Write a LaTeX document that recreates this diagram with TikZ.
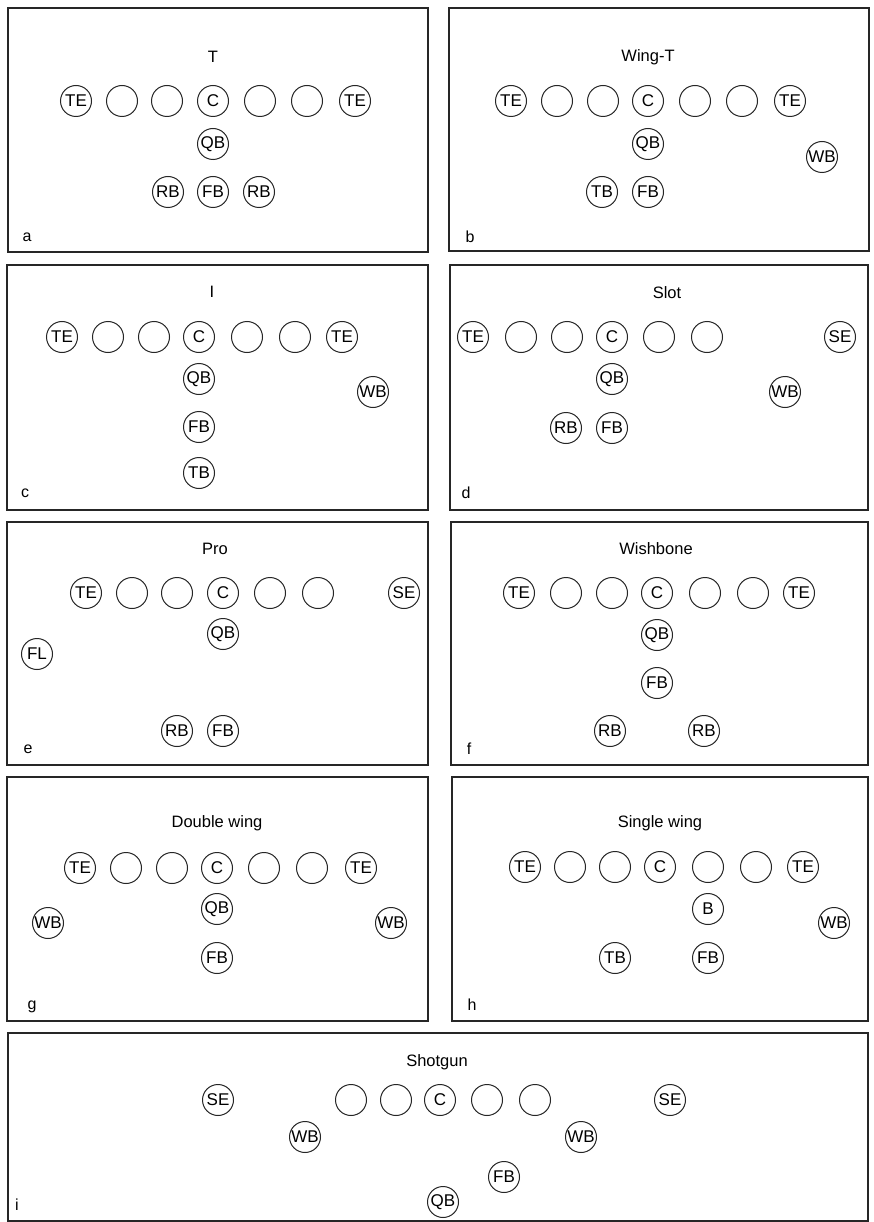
\documentclass[tikz,border=0pt]{standalone}
\usepackage{fontspec}
\setmainfont{Liberation Sans}
\newcommand\plr[4]{\node[pl] (#1) at (#2,#3) {#4};}
\begin{document}
\begin{tikzpicture}[x=1pt,y=-1pt,
  pl/.style={circle,draw=black!85,line width=1pt,minimum size=31pt,inner sep=0pt,font=\fontsize{17}{17}\selectfont},
  frame/.style={draw=black!85,line width=1.3pt},
  ttl/.style={font=\fontsize{16.5}{17}\selectfont,inner sep=0pt},
  lbl/.style={font=\fontsize{16}{16}\selectfont,inner sep=0pt}]
\useasboundingbox[fill=white] (0,0) rectangle (873,1222);
% ---------- a: T
\draw[frame] (8,8) rectangle (428,252);
\node[ttl] (ta) at (213,57) {T};
\plr{a1}{76}{101}{TE}\plr{a2}{122}{101}{}\plr{a3}{167}{101}{}\plr{a4}{213}{101}{C}
\plr{a5}{260}{101}{}\plr{a6}{307}{101}{}\plr{a7}{355}{101}{TE}
\plr{aqb}{213}{144}{QB}
\plr{arb1}{168}{192}{RB}\plr{afb}{213}{192}{FB}\plr{arb2}{259}{192}{RB}
\node[lbl] (la) at (27,237) {a};
% ---------- b: Wing-T
\draw[frame] (449,8) rectangle (869,251);
\node[ttl] (tb) at (648,57) {Wing-T};
\plr{b1}{511}{101}{TE}\plr{b2}{557}{101}{}\plr{b3}{603}{101}{}\plr{b4}{648}{101}{C}
\plr{b5}{695}{101}{}\plr{b6}{742}{101}{}\plr{b7}{790}{101}{TE}
\plr{bqb}{648}{144}{QB}\plr{bwb}{822}{157}{WB}
\plr{btb}{602}{192}{TB}\plr{bfb}{648}{192}{FB}
\node[lbl] (lb) at (470,237) {b};
% ---------- c: I
\draw[frame] (7,265) rectangle (428,510);
\node[ttl] (tc) at (212,292) {I};
\plr{c1}{62}{337}{TE}\plr{c2}{108}{337}{}\plr{c3}{154}{337}{}\plr{c4}{199}{337}{C}
\plr{c5}{247}{337}{}\plr{c6}{295}{337}{}\plr{c7}{342}{337}{TE}
\plr{cqb}{199}{379}{QB}\plr{cfb}{199}{427}{FB}\plr{ctb}{199}{473}{TB}
\plr{cwb}{373}{392}{WB}
\node[lbl] (lc) at (25,493) {c};
% ---------- d: Slot
\draw[frame] (450,265) rectangle (868,510);
\node[ttl] (td) at (667,293) {Slot};
\plr{d1}{473}{337}{TE}\plr{d2}{521}{337}{}\plr{d3}{567}{337}{}\plr{d4}{612}{337}{C}
\plr{d5}{659}{337}{}\plr{d6}{707}{337}{}\plr{dse}{840}{337}{SE}
\plr{dqb}{612}{379}{QB}\plr{dwb}{785}{392}{WB}
\plr{drb}{566}{428}{RB}\plr{dfb}{612}{428}{FB}
\node[lbl] (ld) at (466,493) {d};
% ---------- e: Pro
\draw[frame] (7,522) rectangle (428,765);
\node[ttl] (te) at (215,549) {Pro};
\plr{e1}{86}{593}{TE}\plr{e2}{132}{593}{}\plr{e3}{177}{593}{}\plr{e4}{223}{593}{C}
\plr{e5}{270}{593}{}\plr{e6}{318}{593}{}\plr{ese}{404}{593}{SE}
\plr{eqb}{223}{634}{QB}\plr{efl}{37}{654}{FL}
\plr{erb}{177}{731}{RB}\plr{efb}{223}{731}{FB}
\node[lbl] (le) at (28,749) {e};
% ---------- f: Wishbone
\draw[frame] (451,522) rectangle (868,765);
\node[ttl] (tf) at (656,549) {Wishbone};
\plr{f1}{519}{593}{TE}\plr{f2}{566}{593}{}\plr{f3}{612}{593}{}\plr{f4}{657}{593}{C}
\plr{f5}{705}{593}{}\plr{f6}{753}{593}{}\plr{f7}{799}{593}{TE}
\plr{fqb}{657}{635}{QB}\plr{ffb}{657}{683}{FB}
\plr{frb1}{610}{731}{RB}\plr{frb2}{704}{731}{RB}
\node[lbl] (lf) at (469,749) {f};
% ---------- g: Double wing
\draw[frame] (7,777) rectangle (428,1021);
\node[ttl] (tg) at (217,823) {Double wing};
\plr{g1}{80}{868}{TE}\plr{g2}{126}{868}{}\plr{g3}{172}{868}{}\plr{g4}{217}{868}{C}
\plr{g5}{264}{868}{}\plr{g6}{312}{868}{}\plr{g7}{361}{868}{TE}
\plr{gqb}{217}{909}{QB}\plr{gfb}{217}{958}{FB}
\plr{gwb1}{48}{923}{WB}\plr{gwb2}{391}{923}{WB}
\node[lbl] (lg) at (32,1007) {g};
% ---------- h: Single wing
\draw[frame] (452,777) rectangle (868,1021);
\node[ttl] (th) at (660,823) {Single wing};
\plr{h1}{525}{867}{TE}\plr{h2}{570}{867}{}\plr{h3}{615}{867}{}\plr{h4}{660}{867}{C}
\plr{h5}{708}{867}{}\plr{h6}{756}{867}{}\plr{h7}{803}{867}{TE}
\plr{hb}{708}{909}{B}\plr{hfb}{708}{958}{FB}\plr{htb}{615}{958}{TB}
\plr{hwb}{834}{923}{WB}
\node[lbl] (lh) at (472,1005) {h};
% ---------- i: Shotgun
\draw[frame] (8,1033) rectangle (868,1221);
\node[ttl] (ti) at (437,1062) {Shotgun};
\plr{ise1}{218}{1100}{SE}\plr{i2}{351}{1100}{}\plr{i3}{396}{1100}{}\plr{i4}{440}{1100}{C}
\plr{i5}{487}{1100}{}\plr{i6}{535}{1100}{}\plr{ise2}{670}{1100}{SE}
\plr{iwb1}{305}{1137}{WB}\plr{iwb2}{581}{1137}{WB}
\plr{ifb}{504}{1177}{FB}\plr{iqb}{443}{1202}{QB}
\node[lbl] (li) at (17,1205) {i};
\end{tikzpicture}
\end{document}
